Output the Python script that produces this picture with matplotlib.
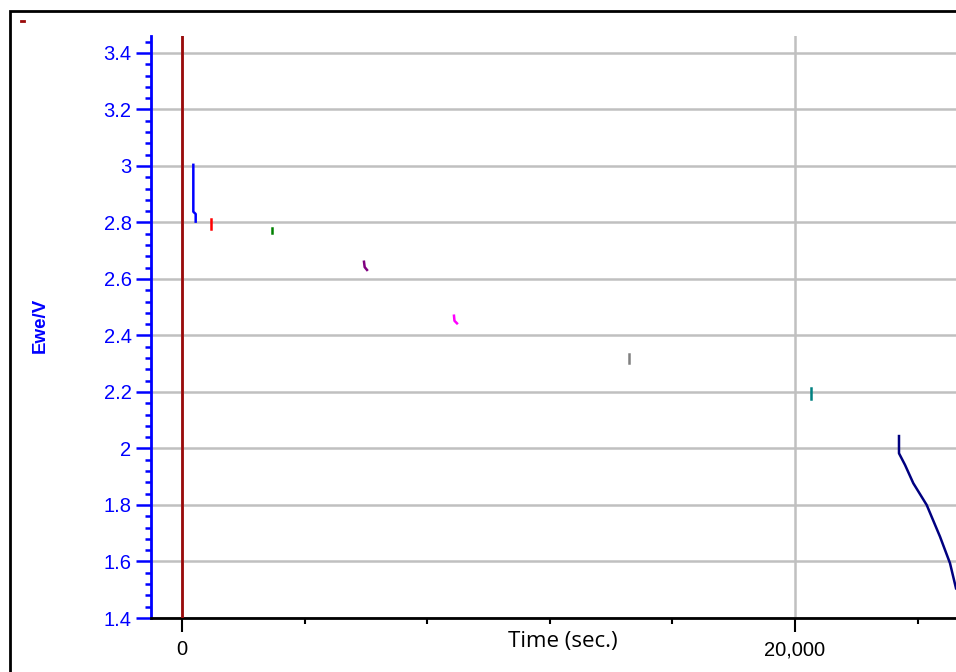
import matplotlib
matplotlib.use("Agg")
import matplotlib.pyplot as plt
from matplotlib.ticker import MultipleLocator, FuncFormatter
from matplotlib.patches import Rectangle
from matplotlib.lines import Line2D

# ---- data (time in s, Ewe in V) ----
s1_t = [370, 370, 447, 447]
s1_v = [3.004, 2.838, 2.83, 2.803]
s2_t = [946, 946]
s2_v = [2.812, 2.776]
s3_t = [2947, 2947]
s3_v = [2.780, 2.763]
s4_t = [5938, 5960, 6036]
s4_v = [2.661, 2.642, 2.632]
s5_t = [8874, 8890, 8972]
s5_v = [2.470, 2.452, 2.443]
s6_t = [14594, 14594]
s6_v = [2.333, 2.302]
s7_t = [20532, 20532]
s7_v = [2.215, 2.175]
s8_t = [23393, 23393, 23589, 23860, 24297, 24731, 25057, 25253]
s8_v = [2.044, 1.983, 1.942, 1.877, 1.800, 1.688, 1.594, 1.505]
marker_t = 0  # vertical dark-red line

series = [
    (s1_t, s1_v, "#0000FF"),
    (s2_t, s2_v, "#FF0000"),
    (s3_t, s3_v, "#008000"),
    (s4_t, s4_v, "#800080"),
    (s5_t, s5_v, "#FF00FF"),
    (s6_t, s6_v, "#808080"),
    (s7_t, s7_v, "#008080"),
    (s8_t, s8_v, "#000080"),
]

W, H = 956, 672
fig = plt.figure(figsize=(W / 100, H / 100), dpi=100)
ax = fig.add_axes([151 / W, (H - 618) / H, (956 - 151) / W, (618 - 36) / H])

ax.set_xlim(-1011, 25253)
ax.set_ylim(1.4, 3.46)

# grid
ax.xaxis.set_major_locator(MultipleLocator(20000))
ax.xaxis.set_minor_locator(MultipleLocator(4000))
ax.yaxis.set_major_locator(MultipleLocator(0.2))
ax.yaxis.set_minor_locator(MultipleLocator(0.04))
ax.grid(True, which="major", color="#C0C0C0", linewidth=1.8, zorder=0)
ax.set_axisbelow(True)

ax.axvline(marker_t, color="#9A0A0A", linewidth=2, zorder=3)

for t, v, c in series:
    ax.plot(t, v, color=c, linewidth=1.8, zorder=4)

# spines
for s in ["top", "right"]:
    ax.spines[s].set_visible(False)
ax.spines["left"].set_color("#0000FF")
ax.spines["left"].set_linewidth(2)
ax.spines["bottom"].set_color("black")
ax.spines["bottom"].set_linewidth(2)

ax.tick_params(axis="y", which="major", colors="#0000FF", length=11, width=1.8,
               labelsize=14.5, pad=3)
ax.tick_params(axis="y", which="minor", colors="#0000FF", length=4.5, width=1.8)
ax.tick_params(axis="x", which="major", colors="black", length=10, width=1.5,
               labelsize=14.5, pad=6)
ax.tick_params(axis="x", which="minor", colors="black", length=4, width=1.5)

def yfmt(v, p):
    s = f"{v:.1f}"
    return s[:-2] if s.endswith(".0") else s

ax.yaxis.set_major_formatter(FuncFormatter(yfmt))
ax.xaxis.set_major_formatter(FuncFormatter(lambda v, p: f"{int(round(v)):,}"))
for lab in ax.get_yticklabels():
    lab.set_fontfamily("Liberation Sans")
for lab in ax.get_xticklabels():
    lab.set_fontfamily("Liberation Sans")

fig.text(563 / W, 1 - 641 / H, "Time (sec.)", fontsize=16, family="Open Sans",
         ha="center", va="center", color="black")
fig.text(40 / W, 1 - 325 / H, "Ewe/V", fontsize=13.5, fontweight="bold",
         family="Liberation Sans", color="#0000FF", rotation=90,
         ha="center", va="center")

# outer frame
fig.patches.append(Rectangle((10 / W, -0.1), 1.2, 1 - 11 / H + 0.1,
                             transform=fig.transFigure, fill=False,
                             edgecolor="black", linewidth=2))
fig.lines.append(Line2D([21 / W, 24 / W], [1 - 21 / H, 1 - 21 / H],
                        transform=fig.transFigure, color="#9A0A0A", linewidth=2))

fig.savefig("out.png", dpi=100)
